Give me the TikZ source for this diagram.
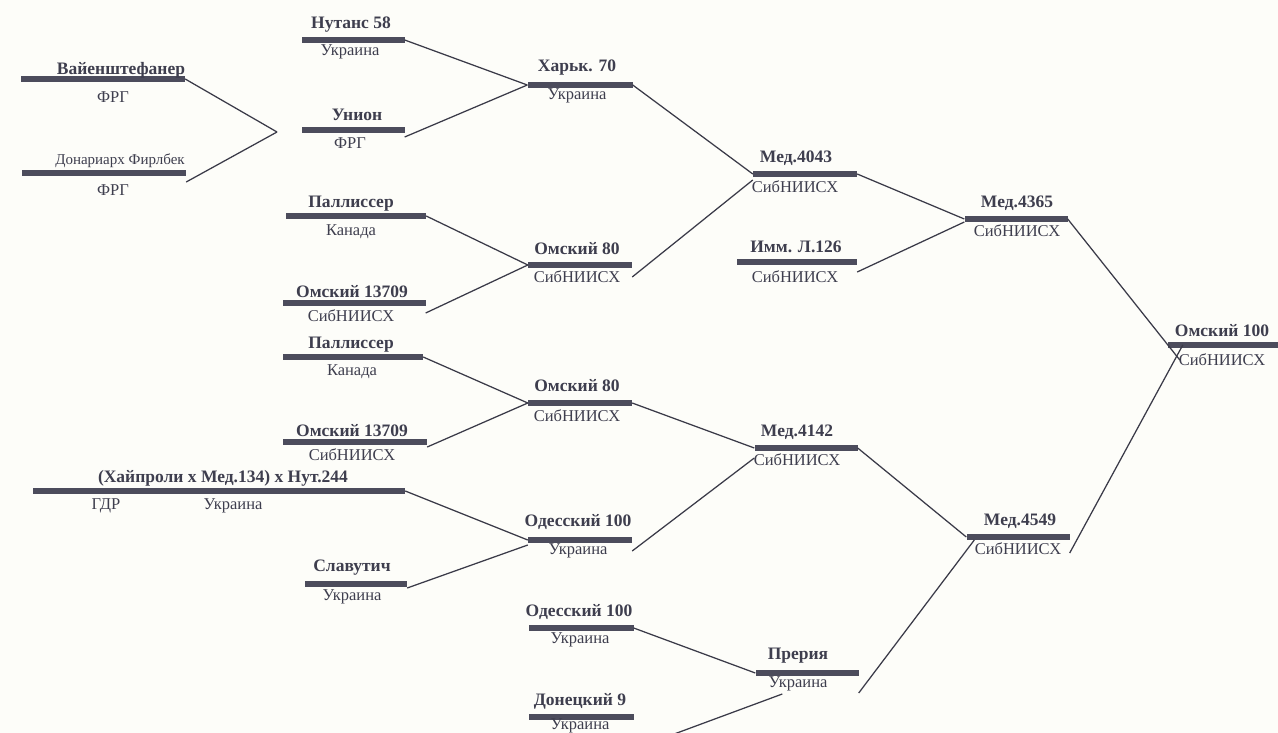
\documentclass[tikz,border=0pt]{standalone}
\usepackage{fontspec}
\setmainfont{Liberation Serif}
\definecolor{barc}{RGB}{76,76,92}
\definecolor{linec}{RGB}{58,58,72}
\definecolor{txtc}{RGB}{62,62,78}
\definecolor{paper}{RGB}{253,253,249}
\begin{document}
\begin{tikzpicture}[x=1pt, y=-1pt,
    bar/.style={fill=barc, inner sep=0pt, minimum height=5.5pt},
    nm/.style={font=\fontsize{17.5}{19}\selectfont\bfseries, text=txtc, inner sep=0pt},
    org/.style={font=\fontsize{16.5}{18}\selectfont, text=txtc, inner sep=0pt},
    ln/.style={draw=linec, line width=1.25pt}]
    \fill[paper] (0,0) rectangle (1278,733);
    \useasboundingbox (0,0) rectangle (1278,733);

    % first column
    \node[bar, minimum width=164pt] (vs) at (103,79) {};
      \node[nm] (vs-t) at (121,70) {Вайенштефанер};
      \node[org] (vs-s) at (113,97) {ФРГ};
    \node[bar, minimum width=164pt] (dn) at (104,173) {};
      \node[org, font=\fontsize{15}{17}\selectfont] (dn-t) at (120,161) {Донариарх Фирлбек};
      \node[org] (dn-s) at (113,190) {ФРГ};
    \coordinate (j) at (277,132);

    % second column
    \node[bar, minimum width=103pt] (nt) at (353,40) {};
      \node[nm] (nt-t) at (351,25) {Нутанс 58};
      \node[org] (nt-s) at (350,52) {Украина};
    \node[bar, minimum width=103pt] (un) at (353,130) {};
      \node[nm] (un-t) at (357,115) {Унион};
      \node[org] (un-s) at (350,143) {ФРГ};
    \node[bar, minimum width=140pt] (pl1) at (356,216) {};
      \node[nm] (pl1-t) at (351,204) {Паллиссер};
      \node[org] (pl1-s) at (351,232) {Канада};
    \node[bar, minimum width=143pt] (om1) at (354,303) {};
      \node[nm] (om1-t) at (352,292) {Омский 13709};
      \node[org] (om1-s) at (351,316) {СибНИИСХ};
    \node[bar, minimum width=140pt] (pl2) at (353,357) {};
      \node[nm] (pl2-t) at (351,345) {Паллиссер};
      \node[org] (pl2-s) at (352,372) {Канада};
    \node[bar, minimum width=144pt] (om2) at (355,442) {};
      \node[nm] (om2-t) at (352,431) {Омский 13709};
      \node[org] (om2-s) at (352,455) {СибНИИСХ};
    \node[bar, minimum width=372pt] (hp) at (219,491) {};
      \node[nm] (hp-t) at (223,478) {(Хайпроли х Мед.134) х Нут.244};
      \node[org] (hp-s1) at (106,506) {ГДР};
      \node[org] (hp-s2) at (233,506) {Украина};
    \node[bar, minimum width=102pt] (sl) at (356,584) {};
      \node[nm] (sl-t) at (352,568) {Славутич};
      \node[org] (sl-s) at (352,597) {Украина};

    % third column
    \node[bar, minimum width=105pt] (kh) at (580,85) {};
      \node[nm] (kh-t) at (577,68) {Харьк. 70};
      \node[org] (kh-s) at (577,96) {Украина};
    \node[bar, minimum width=104pt] (o80a) at (580,265) {};
      \node[nm] (o80a-t) at (577,249) {Омский 80};
      \node[org] (o80a-s) at (577,277) {СибНИИСХ};
    \node[bar, minimum width=104pt] (o80b) at (580,403) {};
      \node[nm] (o80b-t) at (577,386) {Омский 80};
      \node[org] (o80b-s) at (577,416) {СибНИИСХ};
    \node[bar, minimum width=104pt] (od1) at (580,540) {};
      \node[nm] (od1-t) at (578,522) {Одесский 100};
      \node[org] (od1-s) at (578,551) {Украина};
    \node[bar, minimum width=105pt] (od2) at (581,628) {};
      \node[nm] (od2-t) at (579,612) {Одесский 100};
      \node[org] (od2-s) at (580,640) {Украина};
    \node[bar, minimum width=105pt] (dz) at (581,717) {};
      \node[nm] (dz-t) at (580,701) {Донецкий 9};
      \node[org] (dz-s) at (580,726) {Украина};

    % fourth column
    \node[bar, minimum width=104pt] (m43) at (805,174) {};
      \node[nm] (m43-t) at (796,158) {Мед.4043};
      \node[org] (m43-s) at (795,187) {СибНИИСХ};
    \node[bar, minimum width=120pt] (imm) at (797,262) {};
      \node[nm] (imm-t) at (796,247) {Имм. Л.126};
      \node[org] (imm-s) at (795,277) {СибНИИСХ};
    \node[bar, minimum width=103pt] (m41) at (806,448) {};
      \node[nm] (m41-t) at (797,432) {Мед.4142};
      \node[org] (m41-s) at (797,460) {СибНИИСХ};
    \node[bar, minimum width=103pt] (pr) at (807,673) {};
      \node[nm] (pr-t) at (798,656) {Прерия};
      \node[org] (pr-s) at (798,684) {Украина};

    % fifth and last column
    \node[bar, minimum width=103pt] (m65) at (1016,219) {};
      \node[nm] (m65-t) at (1017,203) {Мед.4365};
      \node[org] (m65-s) at (1017,231) {СибНИИСХ};
    \node[bar, minimum width=103pt] (m49) at (1018,537) {};
      \node[nm] (m49-t) at (1020,521) {Мед.4549};
      \node[org] (m49-s) at (1018,549) {СибНИИСХ};
    \node[bar, minimum width=110pt] (o100) at (1223,345) {};
      \node[nm] (o100-t) at (1222,331) {Омский 100};
      \node[org] (o100-s) at (1222,360) {СибНИИСХ};

    % crossings
    \draw[ln] (vs.east) -- (j);
    \draw[ln] ([yshift=-9pt]dn.east) -- (j);
    \draw[ln] (nt.east) -- (kh.west);
    \draw[ln] ([yshift=-7pt]un.east) -- (kh.west);
    \draw[ln] (pl1.east) -- (o80a.west);
    \draw[ln] ([yshift=-10pt]om1.east) -- (o80a.west);
    \draw[ln] (pl2.east) -- (o80b.west);
    \draw[ln] ([yshift=-5pt]om2.east) -- (o80b.west);
    \draw[ln] (hp.east) -- (od1.west);
    \draw[ln] ([yshift=-4pt]sl.east) -- ([yshift=-5pt]od1.west);
    \draw[ln] (kh.east) -- (m43.west);
    \draw[ln] ([yshift=-12pt]o80a.east) -- ([yshift=-6pt]m43.west);
    \draw[ln] (o80b.east) -- (m41.west);
    \draw[ln] ([yshift=-11pt]od1.east) -- ([yshift=-10pt]m41.west);
    \draw[ln] (od2.east) -- (pr.west);
    \draw[ln] ([yshift=-32pt]dz.east) -- ([xshift=27pt,yshift=-21pt]pr.west);
    \draw[ln] (m43.east) -- (m65.west);
    \draw[ln] ([yshift=-10pt]imm.east) -- ([yshift=-3pt]m65.west);
    \draw[ln] (m41.east) -- (m49.west);
    \draw[ln] ([yshift=-20pt]pr.east) -- ([xshift=8pt,yshift=-3pt]m49.west);
    \draw[ln] (m65.east) -- ([xshift=12pt,yshift=-15pt]o100.west);
    \draw[ln] ([yshift=-16pt]m49.east) -- ([xshift=15pt]o100.west);
\end{tikzpicture}
\end{document}
